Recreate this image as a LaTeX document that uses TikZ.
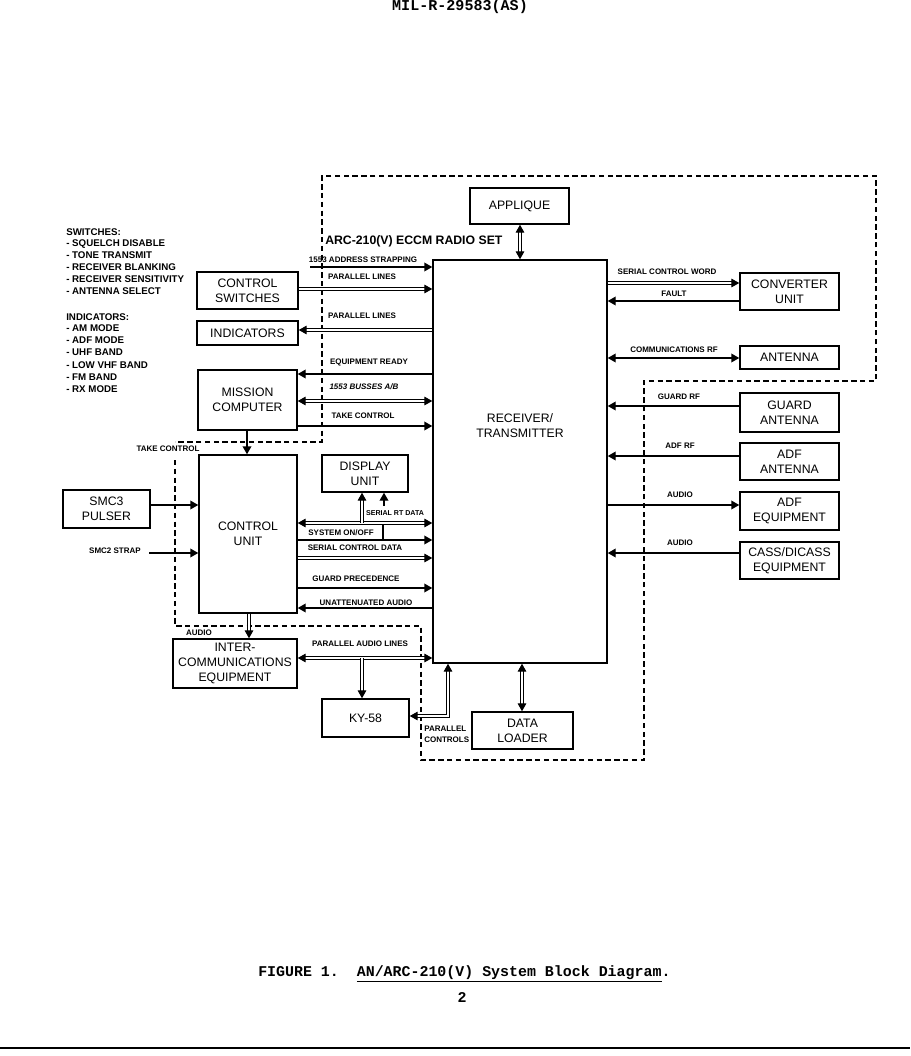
\documentclass[tikz,border=0pt]{standalone}
\usepackage{fontspec}
\setmainfont{Liberation Sans}
\newfontfamily\typewriter{Liberation Mono}
\usetikzlibrary{arrows.meta}
\newcommand{\mybox}[6]{\node[bx,minimum width={(#4-#2)*0.75pt},minimum height={(#5-#3)*0.75pt}] (#1) at ({(#2+#4)/2},{(#3+#5)/2}) {#6};}
\begin{document}
\begin{tikzpicture}[x=0.75pt,y=-0.75pt,
  bx/.style={draw,line width=1.1pt,align=center,inner sep=0pt,font=\fontsize{9.2}{11.2}\selectfont},
  lb/.style={inner sep=0pt,font=\bfseries\fontsize{6}{7.5}\selectfont},
  ls/.style={inner sep=0pt,anchor=west,font=\bfseries\fontsize{7.3}{9}\selectfont},
  sl/.style={line width=1.1pt},
  dl/.style={double,line width=0.85pt,double distance=2pt},
  bnd/.style={line width=1pt,dash pattern=on 4pt off 2.6pt},
  >={Triangle[length=6pt,width=6.5pt]}
]
\useasboundingbox (0,0) rectangle (910,1056);

% header / caption
\node[font=\typewriter\bfseries\fontsize{11.3}{13}\selectfont] (hdr) at (460,7) {MIL-R-29583(AS)};
\node[anchor=west,inner sep=0pt,font=\typewriter\bfseries\fontsize{11.2}{13}\selectfont] (cap) at (258,974) {FIGURE 1.\ \ \underline{AN/ARC-210(V) System Block Diagram}.};
\node[font=\typewriter\bfseries\fontsize{11.2}{13}\selectfont] (pg) at (462,997) {2};
\coordinate (rl) at (0,1048);
\coordinate (rr) at (910,1048);
\draw[line width=1.5pt] (rl) -- (rr);

% dashed boundary
\draw[bnd] (175,460) -- (175,626) -- (421,626) -- (421,760) -- (644,760) -- (644,381) -- (876,381) -- (876,176) -- (322,176) -- (322,442) -- (175,442);

% left lists
\foreach \t/\yy [count=\i] in {SWITCHES:/232, - SQUELCH DISABLE/244, - TONE TRANSMIT/255, - RECEIVER BLANKING/267, - RECEIVER SENSITIVITY/279, - ANTENNA SELECT/291, INDICATORS:/317, - AM MODE/328, - ADF MODE/340, - UHF BAND/352, - LOW VHF BAND/365, - FM BAND/377, - RX MODE/389}
  \node[ls] (list\i) at (66,\yy) {\t};

% boxes
\mybox{app}{470}{188}{569}{224}{APPLIQUE}
\mybox{rt}{433}{260}{607}{663}{}
\node[font=\fontsize{9.2}{11.2}\selectfont,align=center,inner sep=0pt] (rtlabel) at (520,426) {RECEIVER/\\TRANSMITTER};
\mybox{cs}{197}{272}{298}{309}{CONTROL\\SWITCHES}
\mybox{ind}{197}{321}{298}{345}{INDICATORS}
\mybox{mc}{198}{370}{297}{430}{MISSION\\COMPUTER}
\mybox{cu}{199}{455}{297}{613}{CONTROL\\UNIT}
\mybox{du}{322}{455}{408}{492}{DISPLAY\\UNIT}
\mybox{smc}{63}{490}{150}{528}{SMC3\\PULSER}
\mybox{ic}{173}{639}{297}{688}{INTER-\\COMMUNICATIONS\\EQUIPMENT}
\mybox{ky}{322}{699}{409}{737}{KY-58}
\mybox{dload}{472}{712}{573}{749}{DATA\\LOADER}
\mybox{cv}{740}{273}{839}{310}{CONVERTER\\UNIT}
\mybox{ant}{740}{346}{839}{369}{ANTENNA}
\mybox{ga}{740}{393}{839}{432}{GUARD\\ANTENNA}
\mybox{aa}{740}{443}{839}{480}{ADF\\ANTENNA}
\mybox{ae}{740}{492}{839}{530}{ADF\\EQUIPMENT}
\mybox{cd}{740}{542}{839}{579}{CASS/DICASS\\EQUIPMENT}

\node[anchor=west,inner sep=0pt,font=\bfseries\fontsize{9.2}{11}\selectfont] (title) at (325,241) {ARC-210(V) ECCM RADIO SET};

% left connectors
\coordinate (as) at (310,267);
\draw[sl,->] (as) -- (rt.west |- as);
\draw[dl,->] (cs.east |- 0,289) -- (rt.west |- 0,289);
\draw[dl,<-] (ind.east |- 0,330) -- (rt.west |- 0,330);
\draw[sl,<-] (mc.east |- 0,374) -- (rt.west |- 0,374);
\draw[dl,<->] (mc.east |- 0,401) -- (rt.west |- 0,401);
\draw[sl,->] (mc.east |- 0,426) -- (rt.west |- 0,426);
\draw[sl,->] (mc.south -| 247,0) -- (cu.north -| 247,0);
\draw[sl,->] (smc.east |- 0,505) -- (cu.west |- 0,505);
\coordinate (s2) at (149,553);
\draw[sl,->] (s2) -- (cu.west |- s2);

\draw[dl,<->] (cu.east |- 0,523) -- (rt.west |- 0,523);
\draw[dl,->] (362,523) -- (du.south -| 362,0);
\coordinate (rtd) at (384,506);
\draw[sl,->] (rtd) -- (du.south -| rtd);
\draw[sl] (383,525) -- (383,540);
\draw[sl,->] (cu.east |- 0,540) -- (rt.west |- 0,540);
\draw[dl,->] (cu.east |- 0,558) -- (rt.west |- 0,558);
\draw[sl,->] (cu.east |- 0,588) -- (rt.west |- 0,588);
\draw[sl,<-] (cu.east |- 0,608) -- (rt.west |- 0,608);
\draw[dl,->] (cu.south -| 249,0) -- (ic.north -| 249,0);
\draw[dl,<->] (ic.east |- 0,658) -- (rt.west |- 0,658);
\draw[dl,->] (362,658) -- (ky.north -| 362,0);
\draw[dl,<->] (rt.south -| 448,0) -- (448,716) -- (ky.east |- 0,716);
\draw[dl,<->] (rt.south -| 522,0) -- (dload.north -| 522,0);
\draw[dl,<->] (app.south -| 520,0) -- (rt.north -| 520,0);

% right connectors
\draw[dl,->] (rt.east |- 0,283) -- (cv.west |- 0,283);
\draw[sl,<-] (rt.east |- 0,301) -- (cv.west |- 0,301);
\draw[sl,<->] (rt.east |- 0,358) -- (ant.west |- 0,358);
\draw[sl,<-] (rt.east |- 0,406) -- (ga.west |- 0,406);
\draw[sl,<-] (rt.east |- 0,456) -- (aa.west |- 0,456);
\draw[sl,->] (rt.east |- 0,505) -- (ae.west |- 0,505);
\draw[sl,<-] (rt.east |- 0,553) -- (cd.west |- 0,553);

% labels
\node[lb] (lAs) at (363,260) {1553 ADDRESS STRAPPING};
\node[lb] (lPl1) at (362,277) {PARALLEL LINES};
\node[lb] (lPl2) at (362,316) {PARALLEL LINES};
\node[lb] (lEr) at (369,362) {EQUIPMENT READY};
\node[lb,font=\bfseries\itshape\fontsize{6}{7.5}\selectfont] (lBus) at (364,387) {1553 BUSSES A/B};
\node[lb] (lTc) at (363,416) {TAKE CONTROL};
\node[lb] (lTc2) at (168,449) {TAKE CONTROL};
\node[lb,font=\bfseries\fontsize{5.3}{6.5}\selectfont] (lRt) at (395,513) {SERIAL RT DATA};
\node[lb] (lSo) at (341,533) {SYSTEM ON/OFF};
\node[lb] (lScd) at (355,548) {SERIAL CONTROL DATA};
\node[lb] (lGp) at (356,579) {GUARD PRECEDENCE};
\node[lb] (lUa) at (366,603) {UNATTENUATED AUDIO};
\node[lb] (lAu) at (199,633) {AUDIO};
\node[lb] (lPal) at (360,644) {PARALLEL AUDIO LINES};
\node[lb,align=left,anchor=west,font=\bfseries\fontsize{6}{8}\selectfont] (lPc) at (424,734) {PARALLEL\\CONTROLS};
\node[lb] (lSmc2) at (115,551) {SMC2 STRAP};
\node[lb] (lScw) at (667,272) {SERIAL CONTROL WORD};
\node[lb] (lF) at (674,294) {FAULT};
\node[lb] (lCrf) at (674,350) {COMMUNICATIONS RF};
\node[lb] (lGrf) at (679,397) {GUARD RF};
\node[lb] (lArf) at (680,446) {ADF RF};
\node[lb] (lAu1) at (680,495) {AUDIO};
\node[lb] (lAu2) at (680,543) {AUDIO};
\end{tikzpicture}
\end{document}
